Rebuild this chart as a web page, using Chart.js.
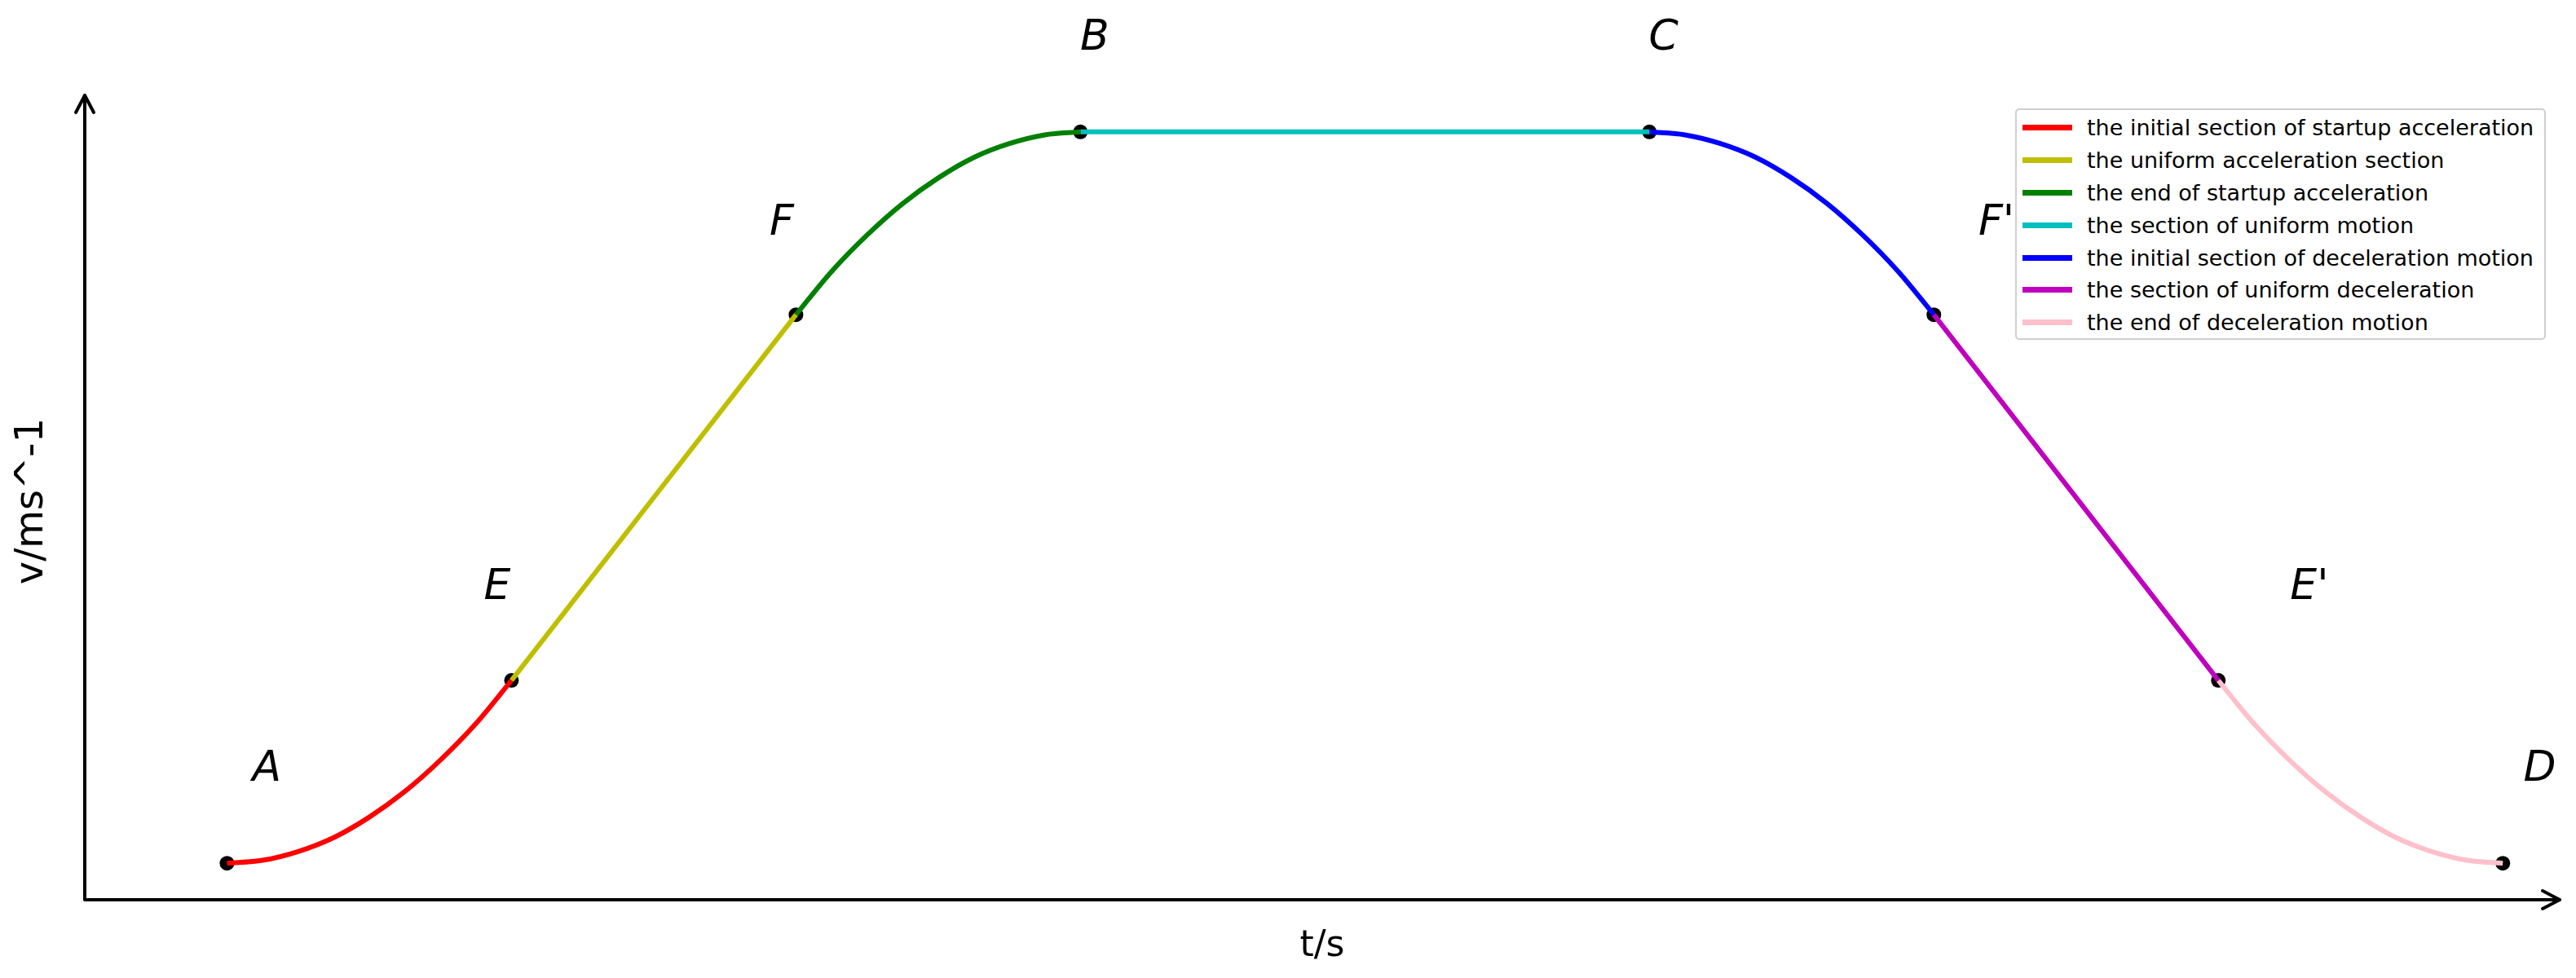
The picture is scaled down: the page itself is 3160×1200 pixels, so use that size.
<!DOCTYPE html>
<html>
<head>
<meta charset="utf-8">
<title>v-t curve</title>
<script src="https://cdn.jsdelivr.net/npm/chart.js@4.4.1/dist/chart.umd.min.js"></script>
<style>
  html, body { margin: 0; padding: 0; background: #fff; }
  #wrap { position: relative; width: 3160px; height: 1200px; }
  #legend {
    position: absolute; left: 2472px; top: 133px; width: 651px; height: 284px;
    border: 2px solid #cfcfcf; border-radius: 5px; background: #fff;
    box-sizing: border-box; padding-top: 2px;
    font-family: "DejaVu Sans", sans-serif; font-size: 27px; color: #000;
  }
  .row { height: 39.8px; display: flex; align-items: center; white-space: nowrap; }
  .swatch { width: 61px; height: 7px; margin-left: 7px; margin-right: 18px; }
</style>
</head>
<body>
<div id="wrap">
  <canvas id="vtChart" width="3160" height="1200"></canvas>
  <div id="legend"></div>
</div>
<script>
// time (s) and speed, one pair of arrays per segment
const redT = [0, 0.125, 0.25, 0.375, 0.5, 0.625, 0.75, 0.875, 1];
const redV = [0, 0.004, 0.016, 0.035, 0.063, 0.098, 0.141, 0.191, 0.25];
const yellowT = [1, 2];
const yellowV = [0.25, 0.75];
const greenT = [2, 2.125, 2.25, 2.375, 2.5, 2.625, 2.75, 2.875, 3];
const greenV = [0.75, 0.809, 0.859, 0.902, 0.937, 0.965, 0.984, 0.996, 1];
const cyanT = [3, 5];
const cyanV = [1, 1];
const blueT = [5, 5.125, 5.25, 5.375, 5.5, 5.625, 5.75, 5.875, 6];
const blueV = [1, 0.996, 0.984, 0.965, 0.937, 0.902, 0.859, 0.809, 0.75];
const magentaT = [6, 7];
const magentaV = [0.75, 0.25];
const pinkT = [7, 7.125, 7.25, 7.375, 7.5, 7.625, 7.75, 7.875, 8];
const pinkV = [0.25, 0.191, 0.141, 0.098, 0.063, 0.035, 0.016, 0.004, 0];

const segmentNames = [
    'the initial section of startup acceleration',
    'the uniform acceleration section',
    'the end of startup acceleration',
    'the section of uniform motion',
    'the initial section of deceleration motion',
    'the section of uniform deceleration',
    'the end of deceleration motion'
];
const segmentColors = ['#ff0000', '#bfbf00', '#008000', '#00bfbf', '#0000ff', '#bf00bf', '#ffc0cb'];

// the marked points between segments
const pointNames = ['A', 'E', 'F', 'B', 'C', "F'", "E'", 'D'];
const pointT = [0, 1, 2, 3, 5, 6, 7, 8];
const pointV = [0, 0.25, 0.75, 1, 1, 0.75, 0.25, 0];
// where each name sits (in t, v units)
const nameT = [0.14, 0.95, 1.95, 3.05, 5.05, 6.22, 7.32, 8.13];
const nameV = [0.128, 0.376, 0.874, 1.128, 1.128, 0.874, 0.376, 0.128];

const segT = [redT, yellowT, greenT, cyanT, blueT, magentaT, pinkT];
const segV = [redV, yellowV, greenV, cyanV, blueV, magentaV, pinkV];

function toPoints(ts, vs) {
    return ts.map((t, i) => ({ x: t, y: vs[i] }));
}

const datasets = segT.map((ts, i) => ({
    label: segmentNames[i],
    data: toPoints(ts, segV[i]),
    borderColor: segmentColors[i],
    backgroundColor: segmentColors[i],
    borderWidth: 6,
    cubicInterpolationMode: 'monotone',
    pointRadius: 0,
    clip: false,
    order: 0
}));

// black dots go underneath the lines
datasets.push({
    label: 'points',
    data: toPoints(pointT, pointV),
    showLine: false,
    pointRadius: 9,
    pointBorderWidth: 0,
    pointBackgroundColor: '#000',
    clip: false,
    order: 1
});

// axes with arrow heads, axis titles and point names
const axesAndNames = {
    id: 'axesAndNames',
    beforeDatasetsDraw(chart) {
        const ctx = chart.ctx;
        const a = chart.chartArea;
        ctx.save();
        ctx.strokeStyle = '#000';
        ctx.lineWidth = 4;
        ctx.lineCap = 'round';
        ctx.lineJoin = 'round';
        ctx.beginPath();
        ctx.moveTo(a.left, a.top);
        ctx.lineTo(a.left, a.bottom);
        ctx.lineTo(a.right, a.bottom);
        ctx.stroke();
        // arrow heads
        ctx.beginPath();
        ctx.moveTo(a.left - 11, a.top + 21);
        ctx.lineTo(a.left, a.top);
        ctx.lineTo(a.left + 11, a.top + 21);
        ctx.moveTo(a.right - 21, a.bottom - 11);
        ctx.lineTo(a.right, a.bottom);
        ctx.lineTo(a.right - 21, a.bottom + 11);
        ctx.stroke();

        ctx.fillStyle = '#000';
        ctx.textAlign = 'center';
        ctx.textBaseline = 'middle';
        ctx.font = '44px "DejaVu Sans"';
        ctx.fillText('t/s', (a.left + a.right) / 2, 1162);
        ctx.font = '48px "DejaVu Sans"';
        ctx.translate(40, 615);
        ctx.rotate(-Math.PI / 2);
        ctx.fillText('v/ms^-1', 0, 0);
        ctx.restore();
    },
    afterDatasetsDraw(chart) {
        const ctx = chart.ctx;
        const xs = chart.scales.x;
        const ys = chart.scales.y;
        ctx.save();
        ctx.fillStyle = '#000';
        ctx.font = 'italic 52px "DejaVu Sans"';
        ctx.textAlign = 'center';
        ctx.textBaseline = 'middle';
        pointNames.forEach((name, i) => {
            ctx.fillText(name, xs.getPixelForValue(nameT[i]), ys.getPixelForValue(nameV[i]));
        });
        ctx.restore();
    }
};

const chart = new Chart(document.getElementById('vtChart').getContext('2d'), {
    type: 'line',
    data: { datasets: datasets },
    options: {
        responsive: false,
        animation: false,
        devicePixelRatio: 1,
        events: [],
        layout: { padding: { left: 104, top: 117, right: 20, bottom: 96 } },
        scales: {
            x: { type: 'linear', min: -0.5, max: 8.2, display: false },
            y: { type: 'linear', min: -0.05, max: 1.05, display: false }
        },
        plugins: {
            legend: { display: false },
            tooltip: { enabled: false }
        }
    },
    plugins: [axesAndNames]
});

// legend built from the chart's own segment datasets
const legendDiv = document.getElementById('legend');
chart.data.datasets.filter(ds => ds.label !== 'points').forEach(ds => {
    const row = document.createElement('div');
    row.className = 'row';
    row.innerHTML = `<span class="swatch" style="background:${ds.borderColor}"></span><span>${ds.label}</span>`;
    legendDiv.appendChild(row);
});
</script>
</body>
</html>
